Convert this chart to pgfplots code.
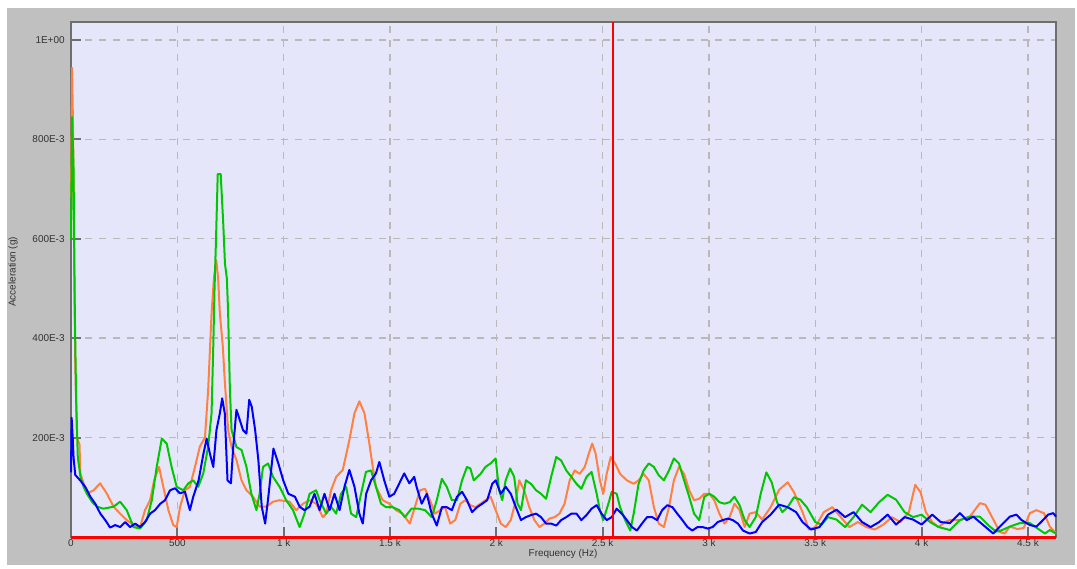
\documentclass[border=0pt]{standalone}
\usepackage{fontspec}
\setmainfont{Liberation Sans}
\usepackage{pgfplots}
\pgfplotsset{compat=1.18}
\definecolor{cOrange}{RGB}{255,128,64}
\definecolor{cGreen}{RGB}{0,200,0}
\definecolor{cBlue}{RGB}{0,0,255}
\definecolor{cBg}{RGB}{230,230,250}
\definecolor{cFrame}{RGB}{192,192,192}
\definecolor{cGrid}{RGB}{185,185,185}
\definecolor{cAxis}{RGB}{110,110,110}
\begin{document}
\begin{tikzpicture}
\useasboundingbox (-35.5bp,-16bp) rectangle (503bp,268.5bp);
\fill[cFrame] (-32bp,-14bp) rectangle (502bp,264.5bp);
\begin{axis}[
  at={(0,0)}, anchor=south west,
  width=492.5bp, height=257.5bp, scale only axis,
  xmin=0, xmax=4632, ymin=0, ymax=1.0362,
  clip=false,
  axis background/.style={fill=cBg},
  axis line style={draw=cAxis, line width=1bp},
  xtick={0,500,1000,1500,2000,2500,3000,3500,4000,4500},
  xticklabels={0,500,1 k,1.5 k,2 k,2.5 k,3 k,3.5 k,4 k,4.5 k},
  ytick={0.2,0.4,0.6,0.8,1},
  yticklabels={200E-3,400E-3,600E-3,800E-3,1E+00},
  tick pos=left, tick align=inside,
  major tick length=5bp,
  tick style={draw=cAxis, line width=1bp},
  grid=major,
  grid style={draw=cGrid, line width=0.7bp, dash pattern=on 3.5bp off 3.5bp},
  ticklabel style={font=\fontsize{5}{6}\selectfont, text=black!80, inner sep=1bp},
  yticklabel style={xshift=-2bp},
  xlabel={Frequency (Hz)},
  ylabel={Acceleration (g)},
  label style={font=\fontsize{5}{6}\selectfont, text=black!80},
  xlabel style={at={(axis description cs:0.4995,-0.033)}, anchor=center},
  ylabel style={at={(axis description cs:-0.0589,0.515)}, anchor=center},
  every axis plot/.append style={line width=1bp, line join=round},
]
% orange
\addplot[cOrange] coordinates {
(0,0.684)(5,0.944)(10,0.813)(15,0.55)(20,0.35)(28,0.20)(40,0.186)(44,0.128)(75,0.087)(106,0.094)(137,0.108)(169,0.087)(200,0.061)(231,0.047)(262,0.034)(294,0.024)(325,0.020)(348,0.054)(372,0.074)(391,0.114)(414,0.141)(434,0.101)(458,0.054)(481,0.024)(497,0.020)(513,0.061)(536,0.094)(559,0.101)(583,0.141)(606,0.182)(630,0.20)(645,0.296)(661,0.45)(672,0.52)(683,0.557)(692,0.52)(700,0.45)(714,0.383)(723,0.315)(739,0.215)(755,0.181)(778,0.155)(802,0.114)(825,0.094)(856,0.081)(887,0.061)(919,0.061)(950,0.071)(981,0.074)(1028,0.071)(1059,0.054)(1091,0.067)(1122,0.074)(1153,0.067)(1184,0.040)(1200,0.047)(1223,0.094)(1247,0.121)(1278,0.135)(1309,0.195)(1333,0.249)(1356,0.273)(1380,0.249)(1403,0.188)(1419,0.141)(1434,0.101)(1466,0.074)(1497,0.067)(1528,0.054)(1559,0.047)
(1593,0.027)(1617,0.060)(1641,0.094)(1665,0.097)(1688,0.074)(1712,0.047)(1736,0.054)(1759,0.060)(1783,0.027)(1807,0.034)(1831,0.067)(1854,0.074)(1878,0.064)(1902,0.060)(1926,0.067)(1949,0.074)(1973,0.081)(1997,0.054)(2021,0.027)(2044,0.020)(2068,0.034)(2092,0.074)(2108,0.114)(2131,0.094)(2155,0.060)(2179,0.034)(2203,0.020)(2226,0.027)(2250,0.037)(2274,0.040)(2297,0.047)(2321,0.067)(2345,0.114)(2369,0.134)(2392,0.127)(2416,0.141)(2435,0.168)(2451,0.188)(2467,0.168)(2487,0.114)(2503,0.087)(2519,0.127)(2538,0.161)(2559,0.148)(2582,0.127)(2614,0.114)(2646,0.107)(2669,0.114)(2693,0.127)(2717,0.114)(2741,0.060)(2764,0.027)(2788,0.020)(2812,0.060)(2835,0.114)(2859,0.141)(2883,0.127)(2907,0.094)(2930,0.074)(2954,0.077)(2978,0.087)(3002,0.087)(3025,0.074)(3049,0.047)(3073,0.027)(3097,0.040)(3120,0.067)(3144,0.054)(3168,0.020)(3191,0.047)
(3220,0.05)(3250,0.035)(3290,0.06)(3330,0.095)(3370,0.11)(3400,0.09)(3440,0.05)(3470,0.015)(3500,0.02)(3540,0.05)(3580,0.06)(3620,0.04)(3660,0.02)(3700,0.03)(3740,0.02)(3780,0.015)(3820,0.025)(3860,0.04)(3900,0.03)(3940,0.05)(3970,0.105)(3995,0.09)(4020,0.05)(4050,0.03)(4080,0.02)(4110,0.03)(4133,0.034)(4180,0.034)(4227,0.041)(4274,0.068)(4300,0.065)(4330,0.041)(4368,0.010)(4390,0.007)(4415,0.021)(4450,0.016)(4480,0.018)(4509,0.048)(4540,0.054)(4575,0.048)(4603,0.021)(4632,0.007)
};
% green
\addplot[cGreen] coordinates {
(0,0.60)(5,0.845)(12,0.74)(18,0.45)(24,0.28)(32,0.16)(45,0.12)(60,0.10)(75,0.087)(100,0.07)(122,0.061)(153,0.057)(200,0.061)(231,0.071)(262,0.054)(294,0.020)(325,0.017)(356,0.034)(380,0.074)(403,0.141)(427,0.198)(450,0.188)(473,0.141)(497,0.101)(528,0.094)(552,0.108)(575,0.114)(598,0.101)(622,0.128)(645,0.182)(661,0.249)(669,0.383)(675,0.50)(682,0.60)(690,0.73)(704,0.73)(710,0.68)(716,0.63)(724,0.55)(733,0.52)(739,0.45)(747,0.30)(755,0.215)(778,0.181)(802,0.175)(825,0.141)(848,0.087)(872,0.054)(887,0.087)(903,0.141)(927,0.148)(950,0.121)(981,0.101)(1012,0.074)(1044,0.054)(1075,0.020)(1098,0.047)(1122,0.087)(1153,0.094)(1169,0.074)(1200,0.047)(1223,0.061)(1247,0.047)(1270,0.087)(1294,0.101)(1317,0.047)(1341,0.040)(1364,0.087)(1387,0.131)(1411,0.134)(1434,0.101)(1458,0.067)(1481,0.060)(1512,0.060)(1544,0.054)(1570,0.040)
(1601,0.057)(1633,0.057)(1665,0.054)(1696,0.040)(1720,0.074)(1744,0.117)(1767,0.101)(1791,0.074)(1815,0.074)(1839,0.114)(1862,0.141)(1878,0.138)(1894,0.114)(1926,0.127)(1949,0.141)(1973,0.148)(1997,0.158)(2013,0.094)(2028,0.074)(2044,0.114)(2065,0.138)(2084,0.121)(2100,0.067)(2116,0.054)(2139,0.114)(2163,0.107)(2187,0.094)(2210,0.087)(2234,0.077)(2258,0.121)(2282,0.161)(2305,0.154)(2329,0.134)(2353,0.121)(2377,0.107)(2400,0.097)(2424,0.121)(2448,0.131)(2472,0.087)(2487,0.054)(2503,0.034)(2527,0.067)(2543,0.091)(2566,0.087)(2582,0.060)(2606,0.034)(2630,0.013)(2646,0.047)(2669,0.107)(2693,0.134)(2717,0.148)(2741,0.141)(2764,0.124)(2788,0.114)(2812,0.134)(2835,0.158)(2859,0.148)(2883,0.114)(2907,0.081)(2930,0.047)(2954,0.034)(2978,0.081)(3002,0.087)(3025,0.081)(3049,0.070)(3073,0.067)(3097,0.070)(3120,0.081)(3144,0.064)(3168,0.034)(3191,0.020)
(3220,0.04)(3245,0.09)(3270,0.13)(3295,0.11)(3320,0.07)(3345,0.05)(3370,0.06)(3400,0.08)(3430,0.075)(3460,0.06)(3500,0.03)(3530,0.025)(3560,0.04)(3600,0.035)(3640,0.02)(3680,0.04)(3720,0.065)(3760,0.05)(3800,0.07)(3840,0.085)(3880,0.075)(3920,0.05)(3960,0.04)(4000,0.045)(4040,0.03)(4080,0.02)(4133,0.014)(4180,0.034)(4227,0.041)(4274,0.041)(4321,0.021)(4350,0.011)(4368,0.012)(4415,0.021)(4462,0.028)(4509,0.028)(4556,0.014)(4580,0.007)(4603,0.014)(4632,0.007)
};
% blue
\addplot[cBlue] coordinates {
(0,0.13)(3,0.24)(8,0.20)(12,0.16)(20,0.125)(45,0.113)(67,0.101)(91,0.081)(114,0.067)(138,0.047)(161,0.034)(184,0.019)(208,0.024)(231,0.020)(255,0.030)(278,0.020)(302,0.027)(325,0.020)(348,0.030)(372,0.047)(395,0.054)(420,0.067)(442,0.074)(466,0.094)(489,0.098)(512,0.088)(536,0.091)(559,0.054)(575,0.081)(600,0.114)(623,0.168)(638,0.198)(653,0.168)(669,0.141)(684,0.215)(700,0.249)(711,0.279)(723,0.249)(736,0.114)(752,0.108)(763,0.182)(778,0.256)(794,0.235)(809,0.215)(825,0.208)(838,0.276)(850,0.262)(866,0.215)(881,0.155)(897,0.061)(913,0.027)(928,0.081)(952,0.178)(975,0.148)(998,0.114)(1022,0.087)(1053,0.081)(1075,0.061)(1098,0.054)(1122,0.061)(1145,0.087)(1169,0.054)(1192,0.087)(1216,0.054)(1239,0.087)(1263,0.054)(1286,0.101)(1309,0.135)(1333,0.101)(1356,0.047)(1372,0.027)(1388,0.087)(1411,0.114)(1434,0.128)(1450,0.151)(1473,0.114)(1497,0.081)(1520,0.087)(1544,0.108)(1567,0.128)(1591,0.108)(1614,0.121)
(1625,0.101)(1649,0.067)(1673,0.087)(1696,0.047)(1720,0.023)(1744,0.060)(1767,0.060)(1791,0.054)(1815,0.081)(1839,0.091)(1862,0.074)(1886,0.050)(1910,0.060)(1934,0.067)(1957,0.074)(1981,0.107)(1997,0.114)(2021,0.087)(2044,0.101)(2068,0.087)(2092,0.060)(2116,0.034)(2139,0.040)(2163,0.044)(2187,0.047)(2210,0.040)(2234,0.027)(2258,0.027)(2282,0.023)(2305,0.034)(2329,0.040)(2353,0.047)(2377,0.047)(2400,0.034)(2424,0.044)(2448,0.057)(2472,0.064)(2495,0.047)(2519,0.034)(2543,0.040)(2566,0.057)(2590,0.047)(2614,0.034)(2638,0.020)(2661,0.013)(2685,0.027)(2709,0.040)(2733,0.040)(2756,0.034)(2780,0.054)(2804,0.064)(2828,0.060)(2851,0.047)(2875,0.034)(2899,0.020)(2922,0.013)(2946,0.020)(2970,0.020)(2994,0.017)(3017,0.020)(3041,0.030)(3065,0.034)(3089,0.037)(3112,0.034)(3136,0.027)(3160,0.013)(3191,0.007)
(3220,0.01)(3250,0.03)(3290,0.045)(3330,0.065)(3370,0.06)(3410,0.05)(3440,0.03)(3480,0.015)(3520,0.02)(3560,0.045)(3600,0.055)(3640,0.04)(3680,0.05)(3720,0.03)(3760,0.02)(3800,0.03)(3840,0.045)(3880,0.025)(3920,0.04)(3960,0.035)(4000,0.025)(4050,0.045)(4090,0.03)(4133,0.028)(4180,0.048)(4212,0.034)(4243,0.041)(4290,0.024)(4337,0.007)(4368,0.021)(4415,0.041)(4446,0.045)(4470,0.034)(4509,0.024)(4540,0.021)(4564,0.031)(4595,0.045)(4619,0.048)(4632,0.041)
};
% red cursor and baseline
\addplot[red, line width=1bp] coordinates {(2549,0) (2549,1.0362)};
\addplot[red, line width=1.5bp] coordinates {(0,0) (4632,0)};
\end{axis}
\end{tikzpicture}
\end{document}
